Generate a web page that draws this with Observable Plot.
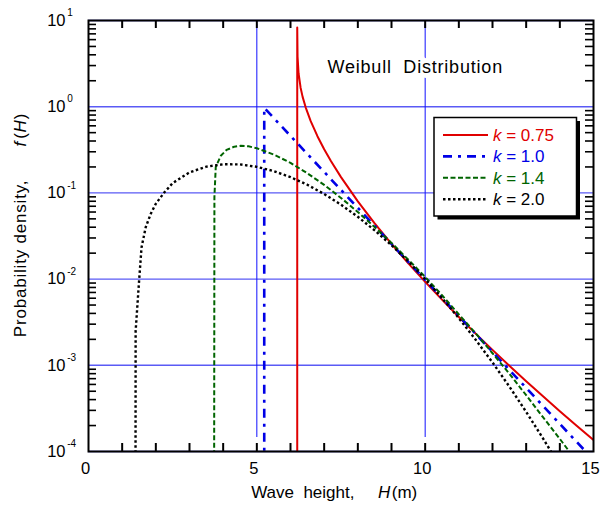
<!DOCTYPE html>
<html><head><meta charset="utf-8">
<script src="https://cdn.jsdelivr.net/npm/d3@7"></script>
<script src="https://cdn.jsdelivr.net/npm/@observablehq/plot@0.6"></script>
<style>
html,body{margin:0;padding:0;background:#fff;}
#chart{position:relative;width:611px;height:508px;}
</style></head><body><div id="chart"></div>
<script>
// ---- data ----
const kLabels = ["0.75", "1.0", "1.4", "2.0"];
const colors = ["#e00000", "#0000e6", "#006400", "#000000"];

const H_k075 = [6.2, 6.2, 6.21, 6.24, 6.3, 6.36, 6.45, 6.6, 6.8, 7.0, 7.2, 7.5, 8.0, 8.5, 9.0, 9.5, 10, 10.5, 11, 11.5, 12, 12.5, 13, 13.5, 14, 14.5, 15];
const f_k075 = [1e-5, 8.3, 3.8, 2.43, 1.66, 1.30, 0.984, 0.680, 0.455, 0.321, 0.235, 0.1525, 0.0798, 0.0443, 0.0256, 0.0152, 0.00928, 0.00577, 0.00364, 0.00233, 0.00151, 0.00099, 0.000655, 0.000438, 0.000294, 0.000199, 0.000136];

const H_k10 = [5.22, 5.22, 6, 7, 8, 9, 10, 11, 12, 13, 14, 15];
const f_k10 = [1e-5, 0.97, 0.458, 0.175, 0.067, 0.0256, 0.00979, 0.00374, 0.00143, 0.000547, 0.000209, 0.00008];

const H_k14 = [3.73, 3.74, 3.78, 3.93, 4.1, 4.33, 4.52, 4.75, 5.0, 5.5, 6.0, 6.5, 7.0, 7.5, 8.0, 8.5, 9.0, 9.5, 10, 10.5, 11, 11.5, 12, 12.5, 13, 13.5, 14, 14.5];
const f_k14 = [1e-5, 0.09, 0.2, 0.27, 0.315, 0.344, 0.352, 0.347, 0.33, 0.279, 0.223, 0.169, 0.124, 0.0874, 0.060, 0.0402, 0.0263, 0.0168, 0.0106, 0.0065, 0.0039, 0.00235, 0.00138, 0.0008, 0.00045, 0.00025, 0.00014, 0.0000768];

const H_k20 = [1.395, 1.40, 1.503, 1.575, 1.70, 1.85, 2.0, 2.25, 2.5, 3.0, 3.5, 4.0, 4.5, 5.0, 5.5, 6.0, 6.5, 7.0, 7.5, 8.0, 8.5, 9.0, 9.5, 10, 10.5, 11, 11.5, 12, 12.5, 13, 13.5, 14];
const f_k20 = [1e-5, 0.0025, 0.0096, 0.0233, 0.040, 0.0574, 0.075, 0.101, 0.13, 0.173, 0.2015, 0.215, 0.214, 0.2007, 0.179, 0.1525, 0.1243, 0.0971, 0.073, 0.0528, 0.0368, 0.0247, 0.016, 0.0100, 0.00603, 0.00352, 0.00198, 0.00108, 0.000567, 0.000288, 0.000142, 0.0000675];

const xTicks = [0, 5, 10, 15];
const xTickLabels = ["0", "5", "10", "15"];
const xGrid = [5, 10];
const yTicks = [1e-4, 1e-3, 1e-2, 1e-1, 1, 10];
const yExponents = ["-4", "-3", "-2", "-1", "0", "1"];
const chartTitle = "Weibull\u00a0\u00a0Distribution";

// ---- layout ----
const W = 611, Ht = 508, mL = 88, mR = 18, mT = 20, mB = 57;
const plotW = W - mL - mR, plotH = Ht - mT - mB;
const tick = 8;
const font = "'Liberation Sans', Arial, Helvetica, sans-serif";

const xMinor = d3.range(1, 15);
const yMinor = [];
for (const dec of [1e-4, 1e-3, 1e-2, 1e-1, 1]) for (let m = 2; m <= 9; m++) yMinor.push(m * dec);

const series = [
  {H: H_k075, f: f_k075, color: colors[0], width: 2, dash: null},
  {H: H_k10, f: f_k10, color: colors[1], width: 2.6, dash: "9,6,3,6"},
  {H: H_k14, f: f_k14, color: colors[2], width: 2, dash: "5,2.5"},
  {H: H_k20, f: f_k20, color: colors[3], width: 2.4, dash: "2.5,2.5"}
];

const chart = Plot.plot({
  width: W, height: Ht,
  marginLeft: mL, marginRight: mR, marginTop: mT, marginBottom: mB,
  style: {fontFamily: font, fontSize: "16.5px", background: "white", color: "black", overflow: "visible"},
  x: {domain: [0, 15], axis: null},
  y: {type: "log", domain: [1e-4, 10], axis: null},
  marks: [
    Plot.ruleY(yTicks, {stroke: "#5a5af5", strokeWidth: 1.4}),
    Plot.ruleX(xGrid, {stroke: "#1010ff", strokeWidth: 1, insetTop: 4, insetBottom: 14}),
    ...series.map(s => Plot.line(s.H.map((h, i) => ({H: h, f: s.f[i]})), {
      x: "H", y: "f", stroke: s.color, strokeWidth: s.width,
      strokeDasharray: s.dash, strokeLinecap: "butt", clip: true
    })),
    Plot.frame({stroke: "black", strokeWidth: 2}),
    Plot.ruleX(xMinor, {stroke: "black", strokeWidth: 2, insetTop: plotH - tick}),
    Plot.ruleX(xMinor, {stroke: "black", strokeWidth: 2, insetBottom: plotH - tick}),
    Plot.ruleY(yMinor, {stroke: "black", strokeWidth: 1.6, insetRight: plotW - tick}),
    Plot.ruleY(yMinor, {stroke: "black", strokeWidth: 1.6, insetLeft: plotW - tick}),
    Plot.text(xTicks, {x: d => d, text: (d, i) => xTickLabels[i], frameAnchor: "bottom", dy: 22, dx: -3, fontSize: 16.5}),
    Plot.text(yTicks, {y: d => d, text: () => "10", frameAnchor: "left", textAnchor: "end", dx: -23, fontSize: 16.5}),
    Plot.text(yTicks, {y: d => d, text: (d, i) => yExponents[i], frameAnchor: "left", textAnchor: "start", dx: -21.3, dy: -7.5, fontSize: 10}),
    Plot.text(["XTITLE"], {text: d => d, frameAnchor: "bottom", textAnchor: "middle", dx: -6.8, dy: 46.6, fontSize: 17}),
    Plot.text(["YTITLE"], {text: d => d, frameAnchor: "left", textAnchor: "middle", rotate: -90, dx: -68.4, dy: -11, fontSize: 17}),
    Plot.text([chartTitle], {text: d => d, frameAnchor: "top", textAnchor: "middle", dx: 74.2, dy: 40.2, fontSize: 18,
      fill: "black", stroke: "white", strokeWidth: 10})
  ]
});

function findText(content) {
  return Array.from(chart.querySelectorAll("text")).find(t => t.textContent === content);
}
function rich(content, parts) {
  const t = findText(content);
  if (!t) return null;
  t.textContent = "";
  for (const [s, it] of parts) {
    const ts = document.createElementNS("http://www.w3.org/2000/svg", "tspan");
    ts.textContent = s;
    if (it) ts.setAttribute("font-style", "italic");
    t.appendChild(ts);
  }
  return t;
}
const sp = n => "\u00a0".repeat(n);
rich("XTITLE", [["Wave" + sp(2) + "height," + sp(5), false], ["H", true], ["\u200a(m)", false]]);
const yt = rich("YTITLE", [["Probability" + sp(1) + "density," + sp(6), false], ["f", true], ["\u200a(", false], ["H", true], [")", false]]);
if (yt) yt.style.letterSpacing = "0.8px";
const tt = findText(chartTitle);
if (tt) { tt.setAttribute("paint-order", "stroke"); tt.style.letterSpacing = "0.8px"; }

const root = document.getElementById("chart");
root.appendChild(chart);

// ---- legend (overlay inside the plot frame) ----
const lg = d3.select(root).append("svg")
  .attr("width", W).attr("height", Ht)
  .style("position", "absolute").style("left", "0px").style("top", "0px")
  .style("font-family", font);
const bx = 434, by = 117.5, bw = 142.5, bh = 98.5;
lg.append("rect").attr("x", bx + 3.5).attr("y", by + 3.5).attr("width", bw).attr("height", bh).attr("fill", "black");
lg.append("rect").attr("x", bx).attr("y", by).attr("width", bw).attr("height", bh).attr("fill", "white").attr("stroke", "black").attr("stroke-width", 1.5);
series.forEach((s, i) => {
  const yc = by + 17.5 + i * 21.4;
  lg.append("line").attr("x1", bx + 9).attr("x2", bx + 54).attr("y1", yc).attr("y2", yc)
    .attr("stroke", s.color).attr("stroke-width", s.width).attr("stroke-dasharray", s.dash);
  const t = lg.append("text").attr("x", bx + 59).attr("y", yc + 6).attr("font-size", 17).attr("fill", s.color);
  t.append("tspan").attr("font-style", "italic").text("k");
  t.append("tspan").text(" = " + kLabels[i]);
});
</script></body></html>
